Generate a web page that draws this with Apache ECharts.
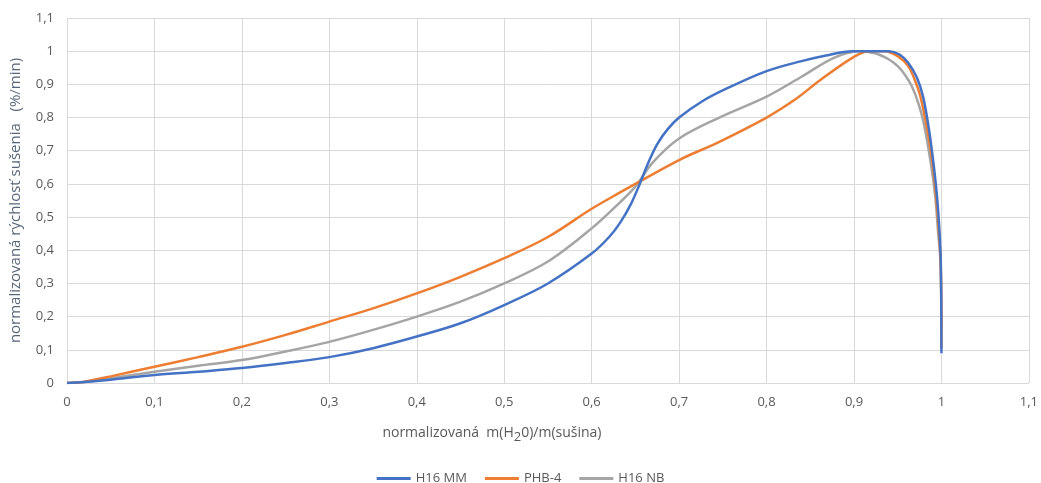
<!DOCTYPE html>
<html>
<head>
<meta charset="utf-8">
<script src="https://cdn.jsdelivr.net/npm/echarts@6/dist/echarts.min.js"></script>
<style>html,body{margin:0;padding:0;background:#fff}#c{width:1041px;height:483px}</style>
</head>
<body>
<div id="c"></div>
<script>
const seriesNames = ['H16 MM', 'PHB-4', 'H16 NB'];
const mmX = [0, 0.02, 0.05, 0.1, 0.15, 0.2, 0.25, 0.3, 0.35, 0.4, 0.45, 0.5, 0.55, 0.6, 0.62, 0.633, 0.645, 0.655, 0.665, 0.675, 0.687, 0.7, 0.727, 0.754, 0.8, 0.84, 0.868, 0.898, 0.92, 0.94, 0.952, 0.962, 0.972, 0.979, 0.986, 0.991, 0.995, 0.9977, 0.9993, 1.0];
const mmY = [0, 0.003, 0.01, 0.024, 0.034, 0.045, 0.06, 0.078, 0.105, 0.14, 0.18, 0.235, 0.30, 0.39, 0.44, 0.485, 0.54, 0.60, 0.665, 0.72, 0.765, 0.80, 0.85, 0.887, 0.94, 0.97, 0.987, 1.0, 1.0, 1.0, 0.99, 0.965, 0.92, 0.863, 0.76, 0.66, 0.56, 0.46, 0.36, 0.09];
const phbX = [0, 0.02, 0.05, 0.1, 0.15, 0.2, 0.25, 0.3, 0.35, 0.4, 0.45, 0.5, 0.55, 0.6, 0.633, 0.65, 0.7, 0.746, 0.8, 0.833, 0.86, 0.898, 0.917, 0.935, 0.95, 0.962, 0.97, 0.976, 0.984, 0.99, 0.994, 0.997, 0.9992, 1.0];
const phbY = [0, 0.004, 0.02, 0.049, 0.078, 0.109, 0.145, 0.185, 0.225, 0.27, 0.32, 0.376, 0.44, 0.525, 0.575, 0.60, 0.672, 0.727, 0.80, 0.855, 0.91, 0.98, 1.0, 1.0, 0.985, 0.955, 0.91, 0.863, 0.76, 0.66, 0.56, 0.46, 0.36, 0.105];
const nbX = [0, 0.02, 0.05, 0.1, 0.15, 0.2, 0.25, 0.3, 0.35, 0.4, 0.45, 0.5, 0.55, 0.6, 0.633, 0.65, 0.67, 0.7, 0.746, 0.8, 0.84, 0.877, 0.905, 0.925, 0.94, 0.95, 0.958, 0.966, 0.974, 0.98, 0.988, 0.993, 0.996, 0.999, 1.0];
const nbY = [0, 0.003, 0.014, 0.034, 0.052, 0.069, 0.095, 0.124, 0.16, 0.20, 0.245, 0.30, 0.366, 0.466, 0.546, 0.592, 0.665, 0.737, 0.80, 0.863, 0.923, 0.98, 1.0, 0.993, 0.975, 0.955, 0.93, 0.895, 0.84, 0.78, 0.66, 0.56, 0.46, 0.36, 0.16];
const colors = ['#4472C4', '#ED7D31', '#A5A5A5'];

function pairs(xs, ys) { return xs.map((x, i) => [x, ys[i]]); }
function fmt(v) { return (Math.round(v * 10) / 10).toString().replace('.', ','); }

const chart = echarts.init(document.getElementById('c'), null, {renderer: 'canvas'});
const data = [pairs(mmX, mmY), pairs(phbX, phbY), pairs(nbX, nbY)];
chart.setOption({
  animation: false,
  color: colors,
  grid: {left: 65, right: 11, top: 18, bottom: 100, containLabel: false},
  legend: {
    left: 'center', top: 467, itemWidth: 34, itemHeight: 3, itemGap: 18, icon: 'rect',
    textStyle: {color: '#595959', fontSize: 13, fontFamily: 'Open Sans'},
    data: seriesNames
  },
  xAxis: {
    type: 'value', min: 0, max: 1.1, interval: 0.1,
    axisLine: {show: true, lineStyle: {color: '#d9d9d9'}},
    axisTick: {show: false},
    splitLine: {show: true, lineStyle: {color: '#d9d9d9', width: 1}},
    axisLabel: {formatter: fmt, color: '#595959', fontSize: 13, fontFamily: 'Open Sans', margin: 13},
    name: 'normalizovaná  m(H{sub|2}0)/m(sušina)',
    nameLocation: 'middle', nameGap: 39,
    nameTextStyle: {color: '#595959', fontSize: 14, fontFamily: 'Open Sans', padding: [0, 112, 0, 0],
      rich: {sub: {fontSize: 13, fontFamily: 'Open Sans', color: '#595959', padding: [9, 0, 0, 0]}}}
  },
  yAxis: {
    type: 'value', min: 0, max: 1.1, interval: 0.1,
    axisLine: {show: false},
    axisTick: {show: false},
    splitLine: {show: true, lineStyle: {color: '#d9d9d9', width: 1}},
    axisLabel: {formatter: fmt, color: '#595959', fontSize: 13, fontFamily: 'Open Sans', margin: 13},
    name: 'normalizovaná rýchlosť sušenia   (%/min)',
    nameLocation: 'middle', nameGap: 44,
    nameTextStyle: {color: '#56667a', fontSize: 15, fontFamily: 'Open Sans'}
  },
  series: seriesNames.map((n, i) => ({
    name: n, type: 'line', data: data[i], symbol: 'none', showSymbol: false,
    smooth: 0.35, lineStyle: {width: 2.5, color: colors[i]}, z: 3 - i
  }))
});
</script>
</body>
</html>
